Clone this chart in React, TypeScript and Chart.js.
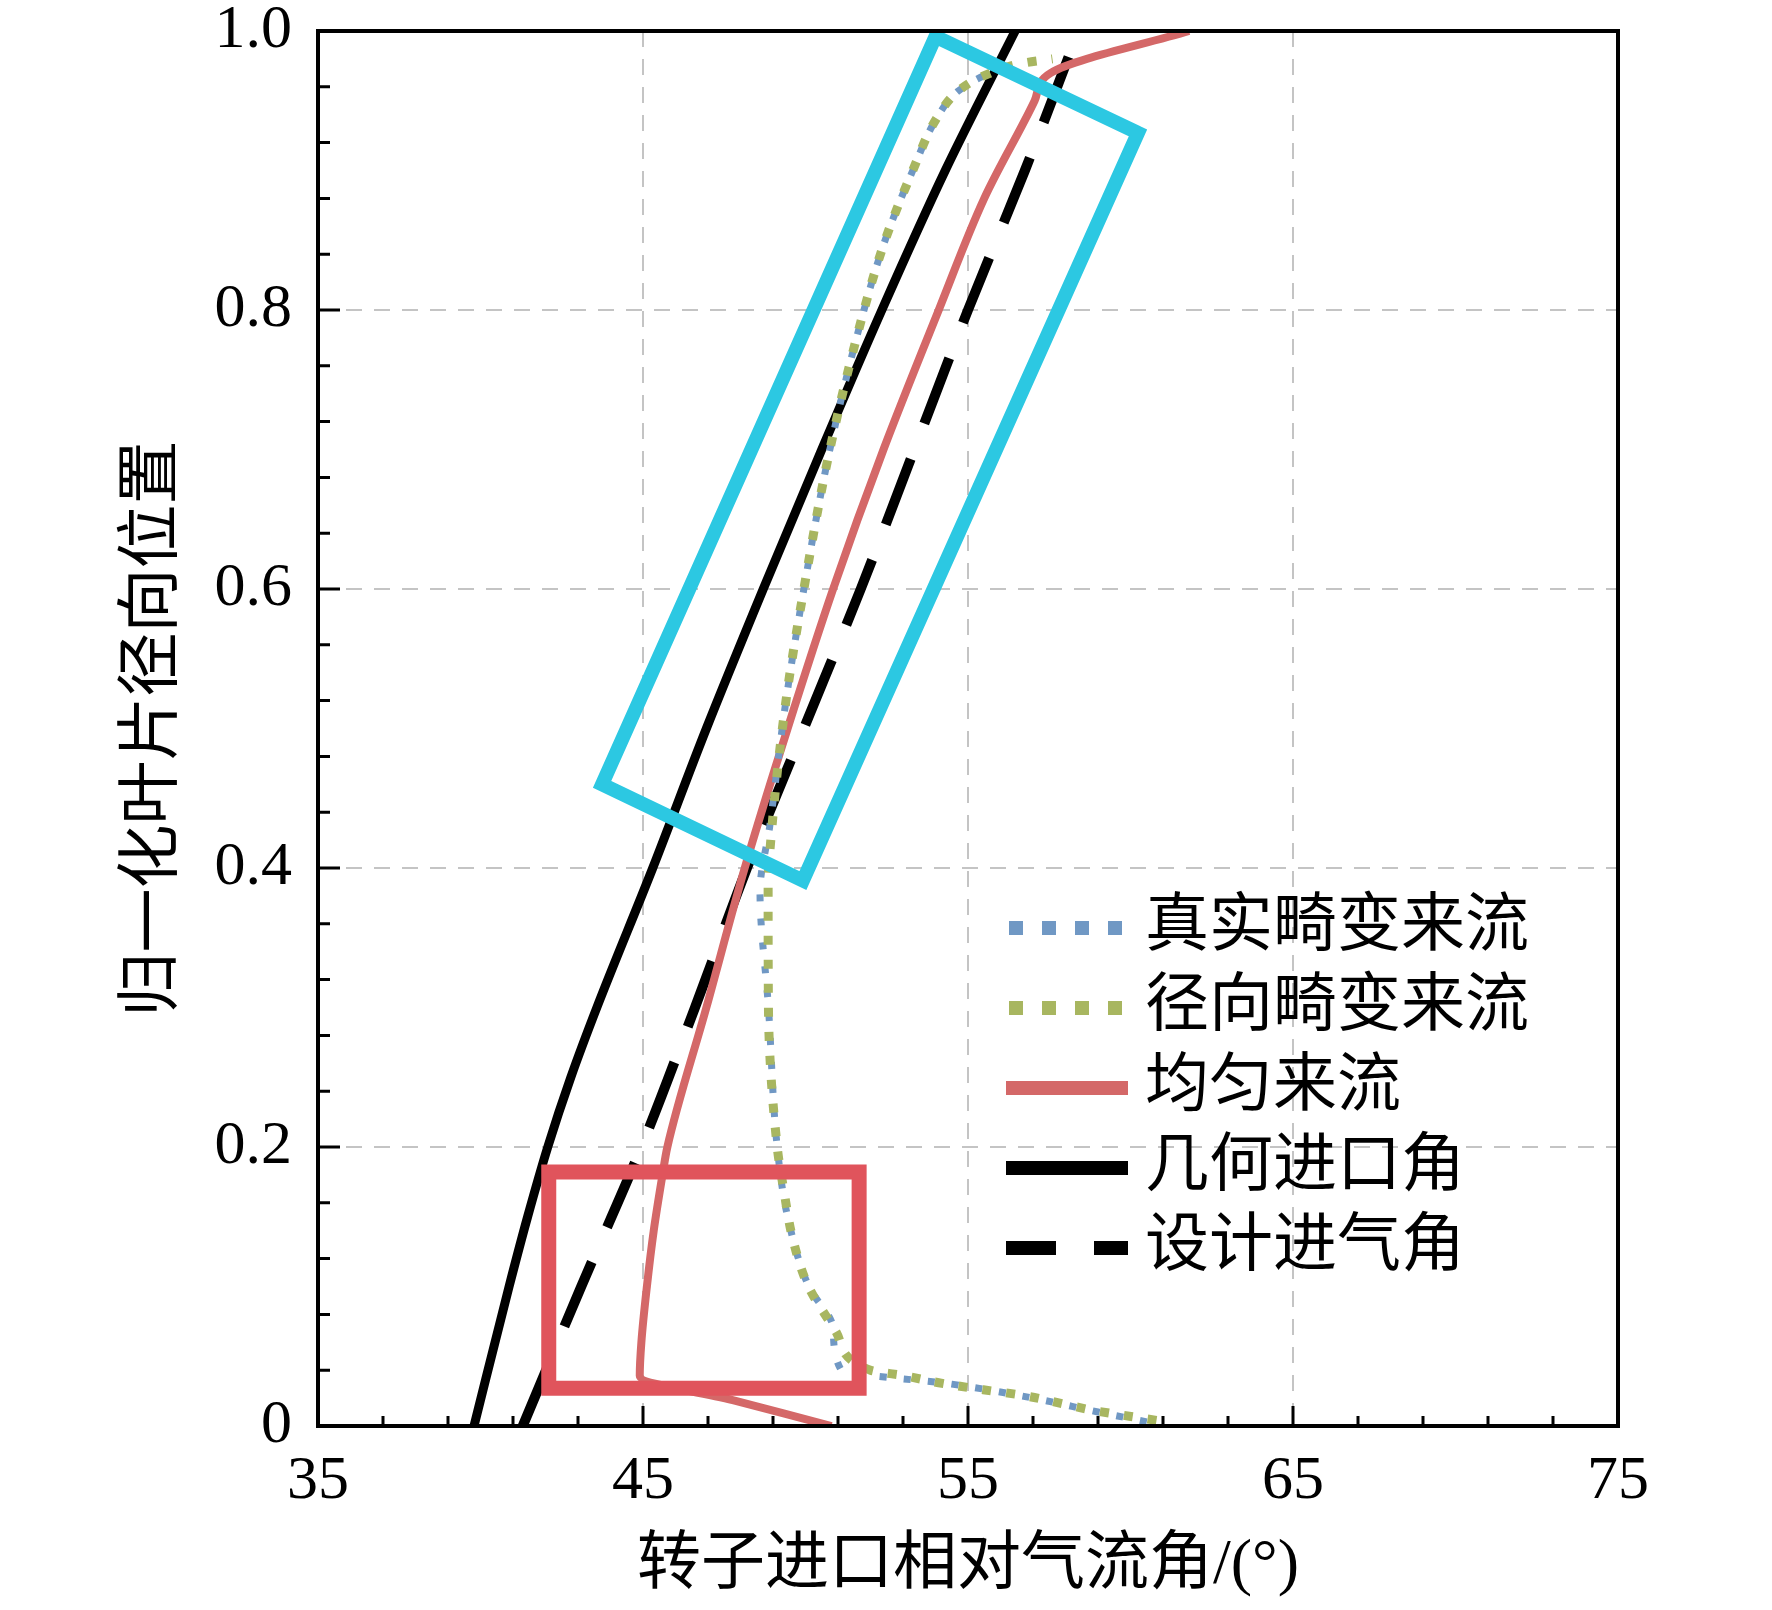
import React, { useEffect, useRef } from 'react';
import { Chart, registerables } from 'chart.js';

Chart.register(...registerables);

// values: span = 归一化叶片径向位置, angle = 转子进口相对气流角 (°)
const geoSpan = [0, 0.1, 0.15, 0.2, 0.25, 0.3, 0.4, 0.5, 0.6, 0.7, 0.8, 0.9, 1.0];
const geoAngle = [39.8, 40.88, 41.45, 42.07, 42.78, 43.58, 45.3, 46.95, 48.7, 50.5, 52.35, 54.3, 56.45];

const designSpan = [0, 0.1, 0.2, 0.3, 0.4, 0.5, 0.6, 0.7, 0.8, 0.9, 1.0];
const designAngle = [41.3, 43.1, 44.95, 46.6, 48.2, 49.95, 51.7, 53.35, 55.0, 56.75, 58.4];

const uniformSpan = [0, 0.018, 0.036, 0.06, 0.1, 0.14, 0.18, 0.2, 0.3, 0.4, 0.5, 0.6, 0.7, 0.8, 0.88, 0.95, 0.97, 1.0];
const uniformAngle = [50.8, 47.85, 44.9, 44.95, 45.12, 45.33, 45.6, 45.75, 46.95, 48.13, 49.45, 50.85, 52.4, 54.1, 55.5, 57.05, 57.55, 61.8];

const radialSpan = [0.004, 0.007, 0.011, 0.015, 0.022, 0.026, 0.031, 0.036, 0.04, 0.067, 0.1, 0.134, 0.168, 0.2, 0.3, 0.385, 0.43, 0.52, 0.6, 0.7, 0.8, 0.85, 0.9, 0.938, 0.957, 0.968, 0.977, 0.98];
const radialAngle = [60.8, 59.96, 58.9, 58.08, 56.67, 55.47, 54.1, 53.04, 52.0, 50.95, 50.09, 49.61, 49.34, 49.13, 48.86, 48.85, 48.97, 49.4, 49.95, 50.75, 51.8, 52.45, 53.3, 54.05, 54.7, 55.5, 56.7, 57.6];

const realSpan = [0.003, 0.01, 0.02, 0.03, 0.04, 0.07, 0.1, 0.15, 0.2, 0.3, 0.383, 0.43, 0.52, 0.6, 0.7, 0.8, 0.85, 0.9, 0.938, 0.957, 0.968, 0.977];
const realAngle = [60.5, 59.0, 57.0, 54.5, 51.1, 50.85, 50.1, 49.45, 49.13, 48.86, 48.6, 48.9, 49.4, 49.95, 50.75, 51.8, 52.45, 53.3, 54.05, 54.7, 55.5, 56.6];

// highlight boxes (corners, closed)
const cyanBoxAngle = [54.0, 60.23, 49.92, 43.74, 54.0, 60.23];
const cyanBoxSpan = [0.996, 0.927, 0.391, 0.46, 0.996, 0.927];
const redBoxAngle = [42.1, 51.65, 51.65, 42.1, 42.1, 51.65];
const redBoxSpan = [0.182, 0.182, 0.027, 0.027, 0.182, 0.182];

const legendLabels = ['真实畸变来流', '径向畸变来流', '均匀来流', '几何进口角', '设计进气角'];
const xTickLabels = ['35', '45', '55', '65', '75'];
const yTickLabels = ['0', '0.2', '0.4', '0.6', '0.8', '1.0'];

const SERIF = '"Liberation Serif", "Noto Sans CJK SC", serif';
const BLUE = 'rgb(112, 152, 196)';
const GREEN = 'rgb(168, 182, 96)';
const RED = 'rgb(212, 104, 104)';

const pts = (xs: number[], ys: number[]) => xs.map((x, i) => ({ x, y: ys[i] }));

const frameTicks = {
  id: 'frameTicks',
  afterDatasetsDraw(chart: any) {
    const { ctx, chartArea: a, scales } = chart;
    ctx.save();
    ctx.strokeStyle = '#000';
    ctx.lineWidth = 3;
    ctx.beginPath();
    for (let i = 1; i < 20; i++) {
      const px = scales.x.getPixelForValue(35 + i * 2);
      const len = i % 5 === 0 ? 20 : 10;
      ctx.moveTo(px, a.bottom);
      ctx.lineTo(px, a.bottom - len);
    }
    for (let i = 1; i < 25; i++) {
      const py = scales.y.getPixelForValue(i * 0.04);
      const len = i % 5 === 0 ? 22 : 12;
      ctx.moveTo(a.left, py);
      ctx.lineTo(a.left + len, py);
    }
    ctx.stroke();
    ctx.lineWidth = 4;
    ctx.strokeRect(a.left, a.top, a.right - a.left, a.bottom - a.top);
    ctx.restore();
  },
};

const insideLegend = {
  id: 'insideLegend',
  afterDraw(chart: any) {
    const { ctx, chartArea } = chart;
    const x0 = chartArea.left + 688;
    const y0 = chartArea.top + 897;
    ctx.save();
    legendLabels.forEach((label, i) => {
      const y = y0 + i * 80;
      if (i < 2) {
        ctx.fillStyle = i === 0 ? BLUE : GREEN;
        for (let k = 0; k < 4; k++) ctx.fillRect(x0 + 3 + k * 33, y - 7, 14, 14);
      } else {
        ctx.strokeStyle = i === 2 ? RED : '#000';
        ctx.lineWidth = 14;
        ctx.beginPath();
        if (i === 4) {
          ctx.moveTo(x0, y); ctx.lineTo(x0 + 50, y);
          ctx.moveTo(x0 + 88, y); ctx.lineTo(x0 + 122, y);
        } else {
          ctx.moveTo(x0, y); ctx.lineTo(x0 + 122, y);
        }
        ctx.stroke();
      }
      ctx.fillStyle = '#000';
      ctx.font = `64px ${SERIF}`;
      ctx.textAlign = 'left';
      ctx.textBaseline = 'middle';
      ctx.fillText(label, x0 + 139, y);
    });
    ctx.restore();
  },
};

const App: React.FC = () => {
  const canvasRef = useRef<HTMLCanvasElement>(null);
  const chartRef = useRef<Chart | null>(null);

  useEffect(() => {
    if (!canvasRef.current) return;
    if (chartRef.current) chartRef.current.destroy();

    const curve = { pointRadius: 0, fill: false, cubicInterpolationMode: 'monotone' as const };
    const box = { pointRadius: 0, fill: false, tension: 0, borderJoinStyle: 'miter' as const };

    chartRef.current = new Chart(canvasRef.current, {
      type: 'line',
      data: {
        datasets: [
          { ...box, label: 'cyan', data: pts(cyanBoxAngle, cyanBoxSpan), borderColor: 'rgb(44, 200, 226)', borderWidth: 14, order: 0 },
          { ...box, label: 'redbox', data: pts(redBoxAngle, redBoxSpan), borderColor: 'rgb(224, 84, 92)', borderWidth: 15, order: 1 },
          { ...curve, label: legendLabels[1], data: pts(radialAngle, radialSpan), borderColor: GREEN, borderWidth: 9, borderDash: [9, 15], order: 2 },
          { ...curve, label: legendLabels[0], data: pts(realAngle, realSpan), borderColor: BLUE, borderWidth: 7, borderDash: [7, 17], order: 3 },
          { ...curve, label: legendLabels[2], data: pts(uniformAngle, uniformSpan), borderColor: RED, borderWidth: 8, order: 4 },
          { ...curve, label: legendLabels[4], data: pts(designAngle, designSpan), borderColor: '#000', borderWidth: 10, borderDash: [70, 38], order: 5 },
          { ...curve, label: legendLabels[3], data: pts(geoAngle, geoSpan), borderColor: '#000', borderWidth: 9, order: 6 },
        ],
      },
      options: {
        indexAxis: 'y',
        responsive: false,
        devicePixelRatio: 1,
        animation: false,
        events: [],
        layout: { padding: { left: 0, top: 31, right: 154, bottom: 0 } },
        plugins: { legend: { display: false }, tooltip: { enabled: false } },
        scales: {
          x: {
            type: 'linear',
            min: 35,
            max: 75,
            afterFit: (s: any) => { s.height = 184; },
            ticks: {
              stepSize: 10,
              padding: 25,
              color: '#000',
              font: { family: SERIF, size: 62, lineHeight: 1 },
              callback: (_v: any, i: number) => xTickLabels[i],
            },
            grid: {
              drawTicks: false,
              lineWidth: 2,
              color: (c: any) => (c.tick && (c.index === 0 || c.index === 4) ? 'rgba(0,0,0,0)' : 'rgb(196,196,196)'),
            },
            border: { display: false, dash: [16, 12] },
            title: {
              display: true,
              text: '转子进口相对气流角/(°)',
              color: '#000',
              font: { family: SERIF, size: 64, lineHeight: 1.2 },
              padding: { top: 0, bottom: 5 },
            },
          },
          y: {
            type: 'linear',
            min: 0,
            max: 1,
            afterFit: (s: any) => { s.width = 318; },
            ticks: {
              stepSize: 0.2,
              padding: 26,
              color: '#000',
              font: { family: SERIF, size: 62, lineHeight: 0.05 },
              callback: (_v: any, i: number) => yTickLabels[i],
            },
            grid: {
              drawTicks: false,
              lineWidth: 2,
              color: (c: any) => (c.tick && (c.index === 0 || c.index === 5) ? 'rgba(0,0,0,0)' : 'rgb(196,196,196)'),
            },
            border: { display: false, dash: [16, 12] },
            title: {
              display: true,
              text: '归一化叶片径向位置',
              color: '#000',
              font: { family: SERIF, size: 64, lineHeight: 1.2 },
              padding: { top: 116, bottom: 0 },
            },
          },
        },
      },
      plugins: [frameTicks, insideLegend],
    } as any);

    return () => {
      if (chartRef.current) {
        chartRef.current.destroy();
        chartRef.current = null;
      }
    };
  }, []);

  return (
    <div style={{ position: 'absolute', left: 0, top: 0, width: 1772, height: 1610, background: '#fff' }}>
      <canvas ref={canvasRef} width={1772} height={1610} style={{ width: '1772px', height: '1610px' }} />
    </div>
  );
};

export default App;
